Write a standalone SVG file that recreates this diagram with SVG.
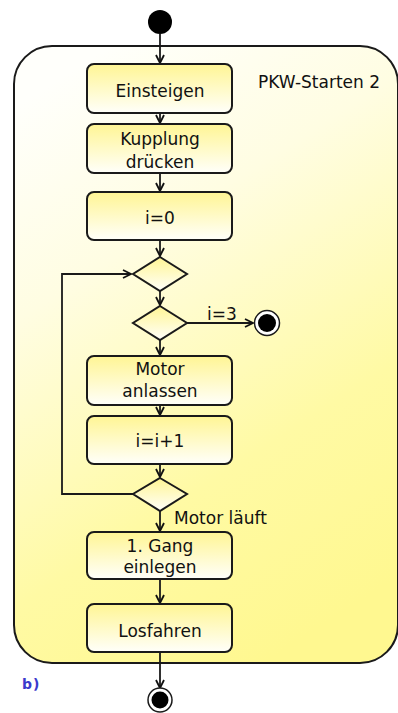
<svg xmlns="http://www.w3.org/2000/svg" width="398" height="713" viewBox="0 0 398 713">
  <defs>
    <linearGradient id="frameFill" x1="0.25" y1="0" x2="0.65" y2="1">
      <stop offset="0" stop-color="#fffffb"/>
      <stop offset="0.3" stop-color="#fffde2"/>
      <stop offset="0.7" stop-color="#fffaa4"/>
      <stop offset="1" stop-color="#fff890"/>
    </linearGradient>
    <linearGradient id="actFill" x1="0" y1="0" x2="0" y2="1">
      <stop offset="0" stop-color="#fff594"/>
      <stop offset="1" stop-color="#fffffa"/>
    </linearGradient>
    <marker id="arr" viewBox="0 0 10 10" refX="9" refY="5" markerWidth="10" markerHeight="10" markerUnits="userSpaceOnUse" orient="auto">
      <path d="M1,1 L9,5 L1,9" fill="none" stroke="#111" stroke-width="1.8"/>
    </marker>
  </defs>
  <style>
    .act { fill: url(#actFill); stroke: #1a1a1a; stroke-width: 2; }
    .dec { fill: url(#actFill); stroke: #1a1a1a; stroke-width: 2; }
    .lbl { font-family: "DejaVu Sans", Verdana, sans-serif; font-size: 17px; fill: #111; text-anchor: middle; }
    .guard { font-family: "DejaVu Sans", Verdana, sans-serif; font-size: 17px; fill: #111; }
    .edge { fill: none; stroke: #1a1a1a; stroke-width: 1.8; marker-end: url(#arr); }
  </style>

  <rect width="398" height="713" fill="#ffffff"/>

  <!-- activity frame -->
  <g id="frame">
    <rect x="14" y="46" width="384" height="617" rx="38" ry="38" fill="url(#frameFill)" stroke="#1a1a1a" stroke-width="2"/>
    <text class="guard" x="258" y="88">PKW-Starten 2</text>
  </g>

  <!-- connectors -->
  <g id="connectors">
    <path class="edge" d="M160,34 V63"/>
    <path class="edge" d="M160,113 V123"/>
    <path class="edge" d="M160,173 V191"/>
    <path class="edge" d="M160,240 V256"/>
    <path class="edge" d="M160,291 V305"/>
    <path class="edge" d="M187,323 H253"/>
    <path class="edge" d="M160,340 V355"/>
    <path class="edge" d="M160,405 V415"/>
    <path class="edge" d="M160,464 V477"/>
    <path class="edge" d="M133,494 H62 V274 H131"/>
    <path class="edge" d="M160,511 V531"/>
    <path class="edge" d="M160,579 V603"/>
    <path class="edge" d="M160,652 V688"/>
    <text class="guard" x="207" y="320">i=3</text>
    <text class="guard" x="174" y="524">Motor läuft</text>
  </g>

  <!-- initial node -->
  <g id="start">
    <circle cx="160" cy="22" r="12" fill="#000"/>
  </g>

  <g id="einsteigen">
    <rect class="act" x="87" y="64" width="145" height="49" rx="7"/>
    <text class="lbl" x="160" y="97">Einsteigen</text>
  </g>

  <g id="kupplung">
    <rect class="act" x="87" y="124" width="145" height="49" rx="7"/>
    <text class="lbl" x="160" y="145">Kupplung</text>
    <text class="lbl" x="160" y="168">drücken</text>
  </g>

  <g id="init-i">
    <rect class="act" x="87" y="192" width="145" height="48" rx="7"/>
    <text class="lbl" x="160" y="224">i=0</text>
  </g>

  <g id="merge">
    <polygon class="dec" points="160,257 187,274 160,291 133,274"/>
  </g>

  <g id="check-i">
    <polygon class="dec" points="160,306 187,323 160,340 133,323"/>
  </g>

  <g id="abort">
    <circle cx="267" cy="323" r="12.5" fill="#fff" stroke="#1a1a1a" stroke-width="1.5"/>
    <circle cx="267" cy="323" r="9" fill="#000"/>
  </g>

  <g id="motor-anlassen">
    <rect class="act" x="87" y="356" width="145" height="49" rx="7"/>
    <text class="lbl" x="160" y="375">Motor</text>
    <text class="lbl" x="160" y="397">anlassen</text>
  </g>

  <g id="increment">
    <rect class="act" x="87" y="416" width="145" height="48" rx="7"/>
    <text class="lbl" x="160" y="447">i=i+1</text>
  </g>

  <g id="check-motor">
    <polygon class="dec" points="160,478 187,494 160,511 133,494"/>
  </g>

  <g id="gang">
    <rect class="act" x="87" y="532" width="145" height="47" rx="7"/>
    <text class="lbl" x="160" y="552">1. Gang</text>
    <text class="lbl" x="160" y="573">einlegen</text>
  </g>

  <g id="losfahren">
    <rect class="act" x="87" y="604" width="145" height="48" rx="7"/>
    <text class="lbl" x="160" y="637">Losfahren</text>
  </g>

  <g id="final">
    <circle cx="160" cy="700" r="12" fill="#fff" stroke="#1a1a1a" stroke-width="1.5"/>
    <circle cx="160" cy="700" r="8.5" fill="#000"/>
  </g>

  <text x="22" y="689" font-family="DejaVu Sans, Verdana, sans-serif" font-size="14" font-weight="bold" fill="#3a3acc" letter-spacing="1">b)</text>
</svg>
